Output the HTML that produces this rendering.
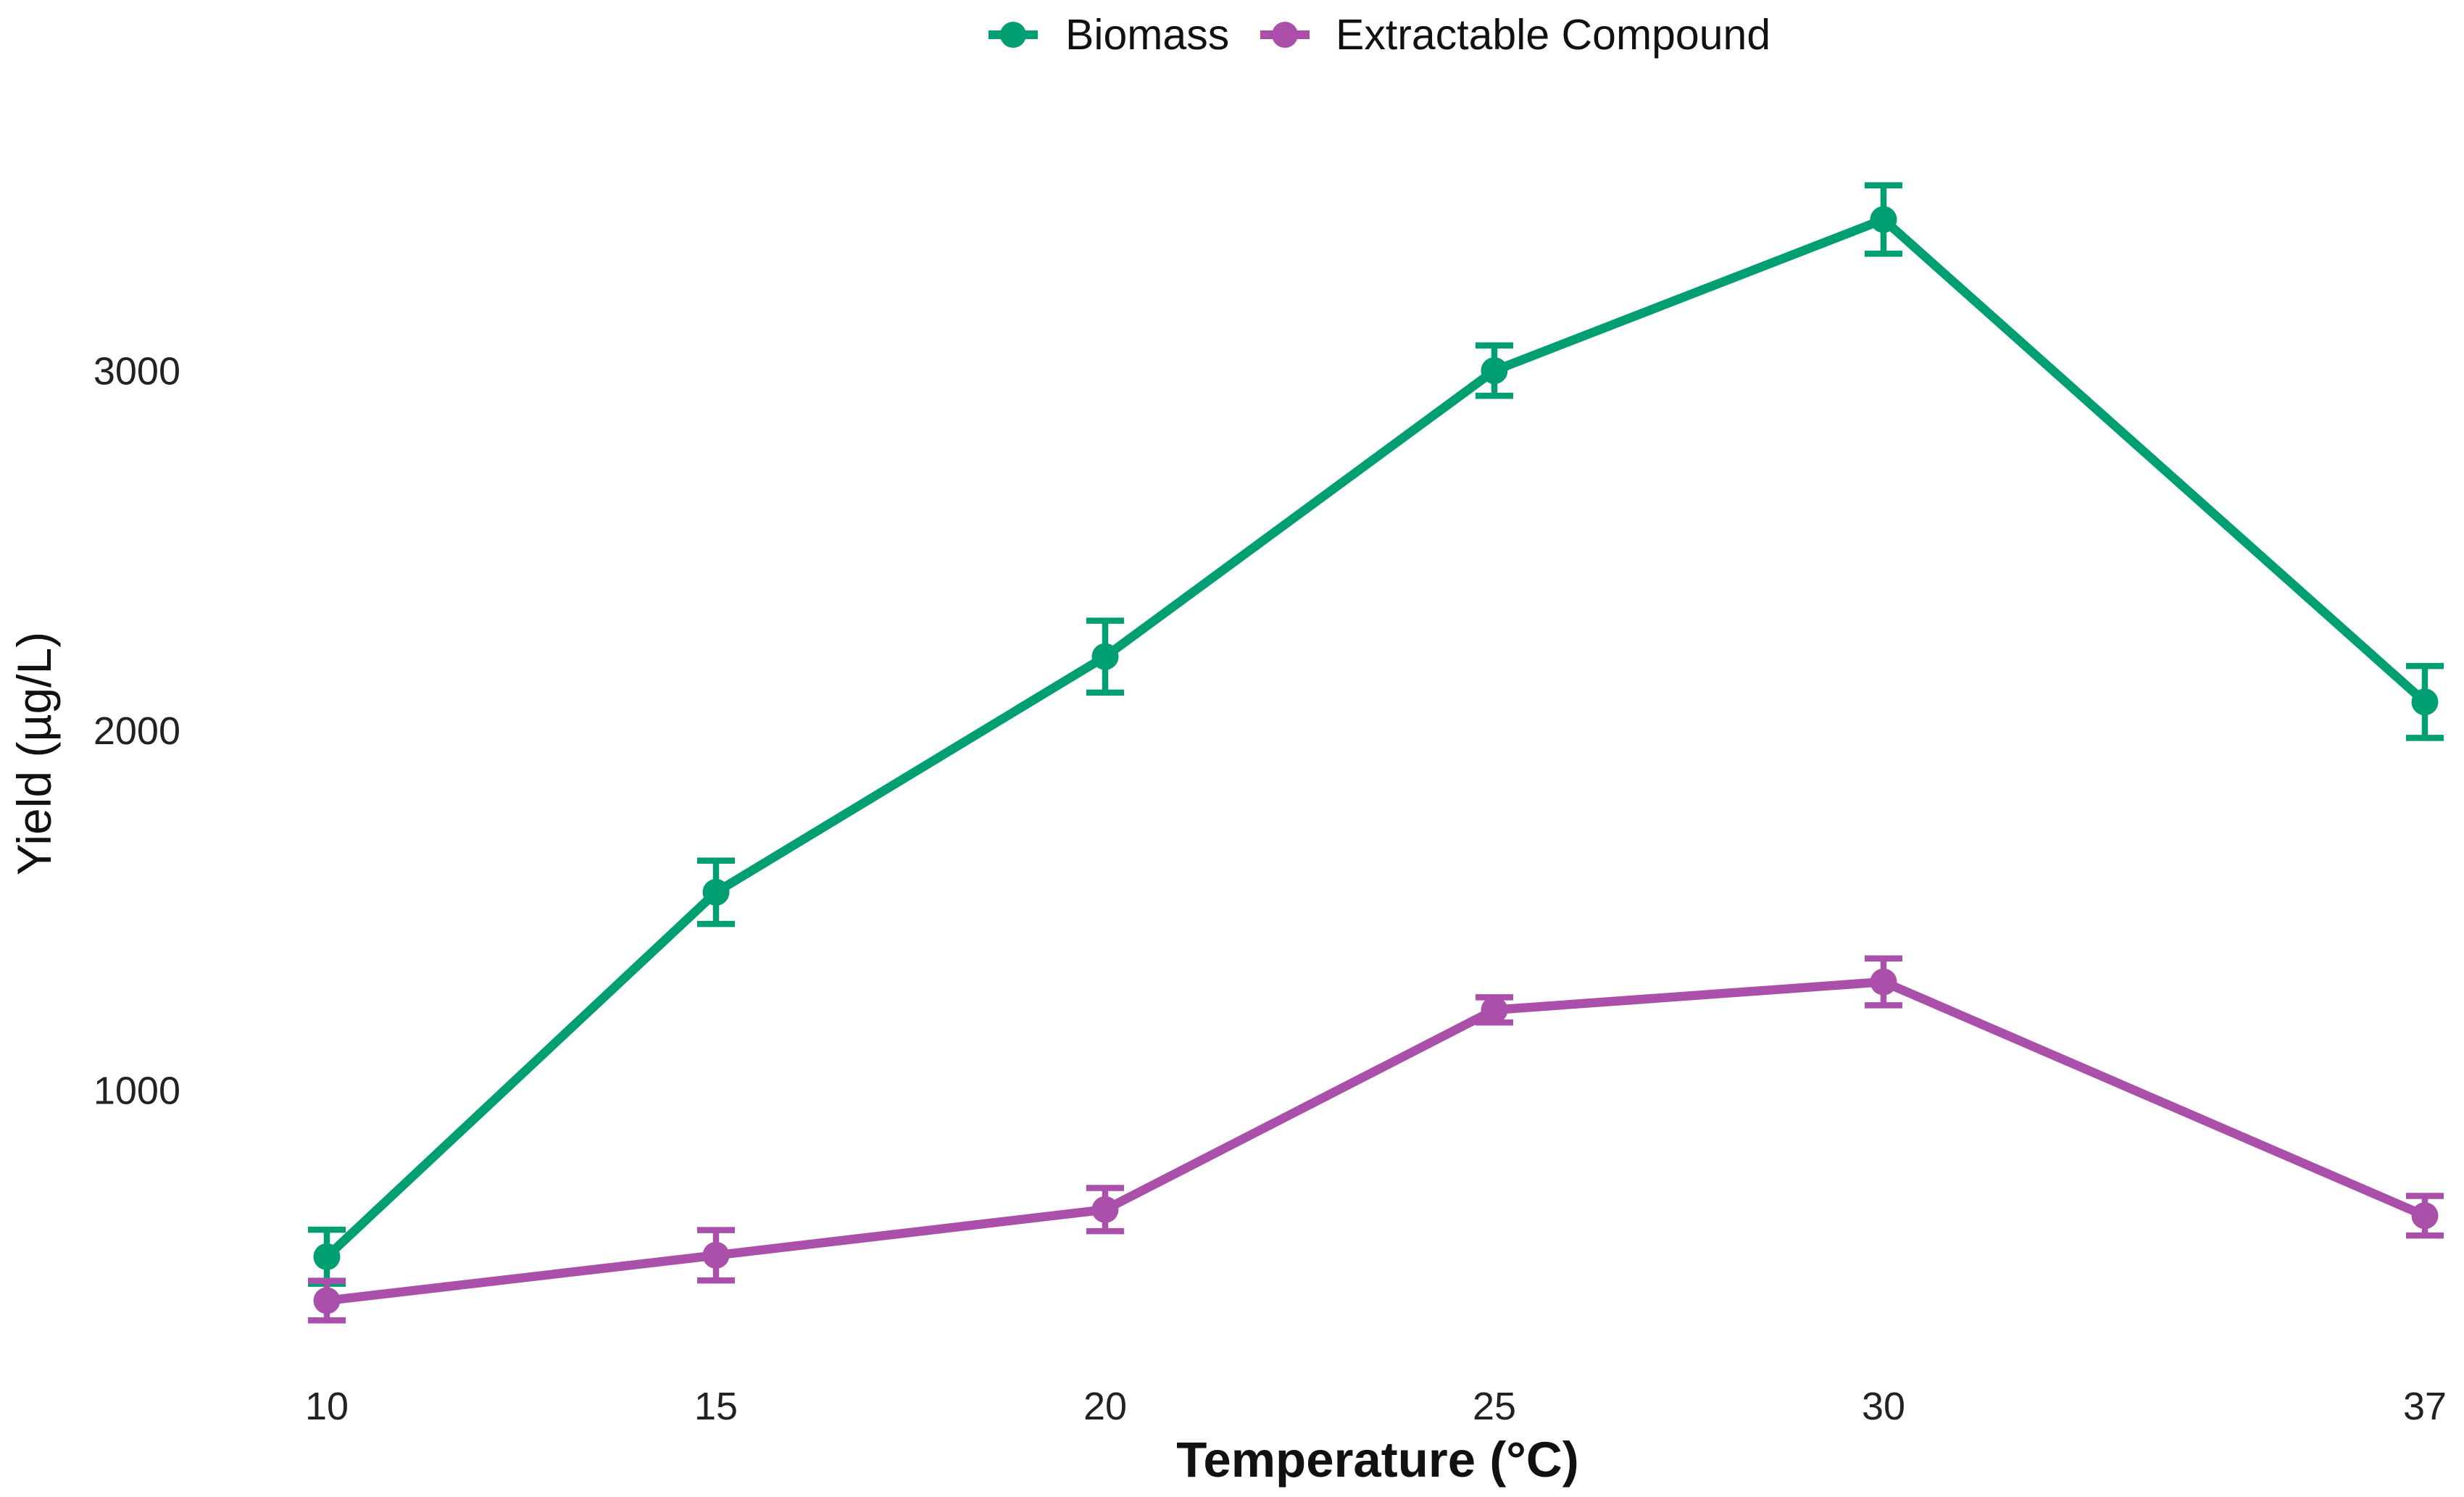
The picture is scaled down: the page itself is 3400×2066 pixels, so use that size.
<!DOCTYPE html>
<html><head><meta charset="utf-8"><style>
html,body{margin:0;padding:0;background:#fff;}
svg{display:block;font-family:"Liberation Sans",Arial,sans-serif;}
</style></head><body>
<svg id="chart" width="3400" height="2066" viewBox="0 0 3400 2066">
<g id="legend"></g>
<g id="yaxis"></g>
<g id="xaxis"></g>
<g id="series"></g>
<text x="1901" y="2038" text-anchor="middle" font-size="69" font-weight="bold" fill="#111">Temperature (°C)</text>
<text transform="translate(70,1040) rotate(-90)" text-anchor="middle" font-size="66" fill="#111">Yield (µg/L)</text>
</svg>
<script>
const categories = ["10","15","20","25","30","37"];
const biomass = [537, 1550, 2205, 3000, 3420, 2079];
const biomassErr = [75, 88, 100, 70, 95, 100];
const extract = [415, 541, 668, 1223, 1301, 651];
const extractErr = [55, 70, 60, 35, 65, 55];
const yTicks = [1000, 2000, 3000];
const seriesNames = ["Biomass", "Extractable Compound"];

const NS = "http://www.w3.org/2000/svg";
const xStart = 451, xStep = 537;
function xPos(i){ return i < 5 ? xStart + i*xStep : 3346; }
function yPos(v){ return 2001 - v*0.4965; }
function mk(tag, attrs, parent){ const e=document.createElementNS(NS,tag); for(const k in attrs) e.setAttribute(k,attrs[k]); parent.appendChild(e); return e; }

const yaxis=document.getElementById('yaxis');
yTicks.forEach(t=>{
  const e=mk('text',{x:249,y:yPos(t)+19,'text-anchor':'end','font-size':54,fill:'#222'},yaxis);
  
  
  e.textContent=t;
});
const xaxis=document.getElementById('xaxis');
categories.forEach((c,i)=>{
  const e=mk('text',{x:xPos(i),y:1959,'text-anchor':'middle','font-size':54,fill:'#222'},xaxis);
  
  
  e.textContent=c;
});

const series=document.getElementById('series');
function drawSeries(vals, errs, color, name){
  const g=mk('g',{},series);
  
  
  const pts=vals.map((v,i)=>xPos(i)+','+yPos(v)).join(' ');
  const pl=mk('polyline',{points:pts,fill:'none',stroke:color,'stroke-width':12.5,'stroke-linejoin':'round'},g);
  
  
  vals.forEach((v,i)=>{
    const x=xPos(i), y1=yPos(v+errs[i]), y2=yPos(v-errs[i]);
    const eb=mk('path',{d:`M${x-26},${y1}H${x+26}M${x},${y1}V${y2}M${x-26},${y2}H${x+26}`,stroke:color,'stroke-width':8.5,fill:'none'},g);
    
    
    const c=mk('circle',{cx:x,cy:yPos(v),r:18.5,fill:color},g);
    
    
  });
}
drawSeries(biomass,biomassErr,'#009E73','biomass');
drawSeries(extract,extractErr,'#AA4FAA','extractable');

const legend=document.getElementById('legend');
const lx=[1398,1773], tx=[1470,1843], cols=['#009E73','#AA4FAA'];
seriesNames.forEach((n,i)=>{
  const g=mk('g',{},legend);
  
  
  mk('line',{x1:lx[i]-34,y1:48,x2:lx[i]+34,y2:48,stroke:cols[i],'stroke-width':12},g);
  mk('circle',{cx:lx[i],cy:48,r:18,fill:cols[i]},g);
  const t=mk('text',{x:tx[i],y:68,'font-size':59,fill:'#111'},g);
  t.textContent=n;
});
</script>
</body></html>
